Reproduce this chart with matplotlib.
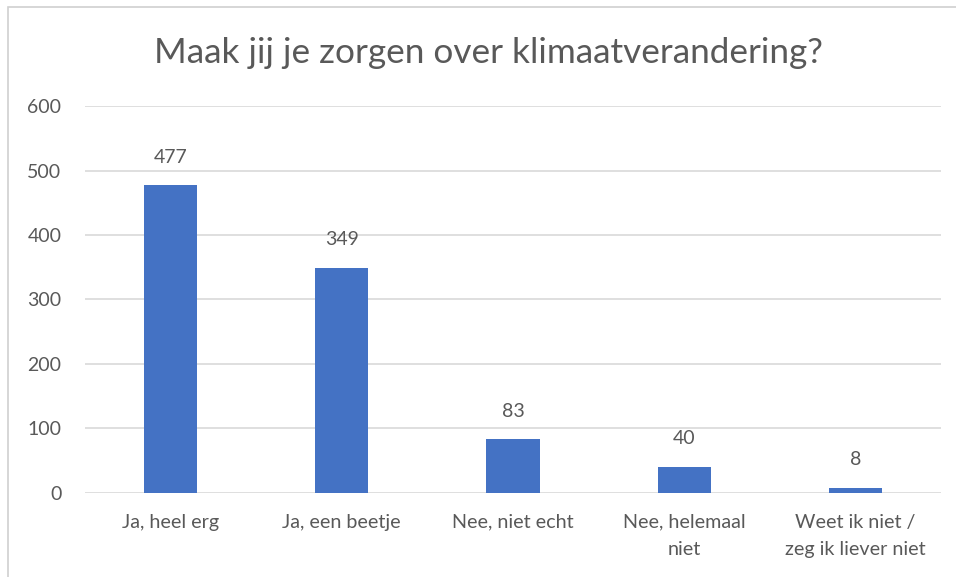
import matplotlib.pyplot as plt
from matplotlib.patches import Rectangle

categories = ["Ja, heel erg", "Ja, een beetje", "Nee, niet echt",
              "Nee, helemaal\nniet", "Weet ik niet /\nzeg ik liever niet"]
counts = [477, 349, 83, 40, 8]
yticks = [0, 100, 200, 300, 400, 500, 600]

plt.rcParams['font.family'] = ['Lato', 'DejaVu Sans']
grey = '#595959'
blue = '#4472C4'

fig = plt.figure(figsize=(9.56, 5.77), dpi=100)
ax = fig.add_axes([0.0889, 0.1461, 0.8954, 0.6697])

x = range(len(categories))
bars = ax.bar(x, counts, width=0.31, color=blue, zorder=3)
for b, v in zip(bars, counts):
    ax.annotate(str(v), (b.get_x() + b.get_width() / 2, v),
                xytext=(0, 14), textcoords='offset points',
                ha='center', va='bottom', fontsize=14, color=grey)

ax.set_xlim(-0.5, len(categories) - 0.5)
ax.set_ylim(0, 600)
ax.set_yticks(yticks)
ax.set_xticks(list(x))
ax.set_xticklabels(categories, fontsize=14.2, color=grey, linespacing=1.75)
ax.tick_params(axis='y', length=0, pad=17, labelsize=14, labelcolor=grey)
ax.tick_params(axis='x', length=0, pad=15)
ax.grid(axis='y', color='#d9d9d9', linewidth=1.2, zorder=0)
for s in ax.spines.values():
    s.set_visible(False)

fig.text(0.511, 0.908, "Maak jij je zorgen over klimaatverandering?",
         ha='center', va='center', fontsize=25.3, color=grey)

# chart border, cut off on right and bottom
fig.patches.append(Rectangle((8 / 956, -0.1), 1.2, 1.1 - 7.5 / 577,
                             transform=fig.transFigure, fill=False,
                             edgecolor='#d0d0d0', linewidth=1.2))

fig.savefig('out.png', dpi=100)
